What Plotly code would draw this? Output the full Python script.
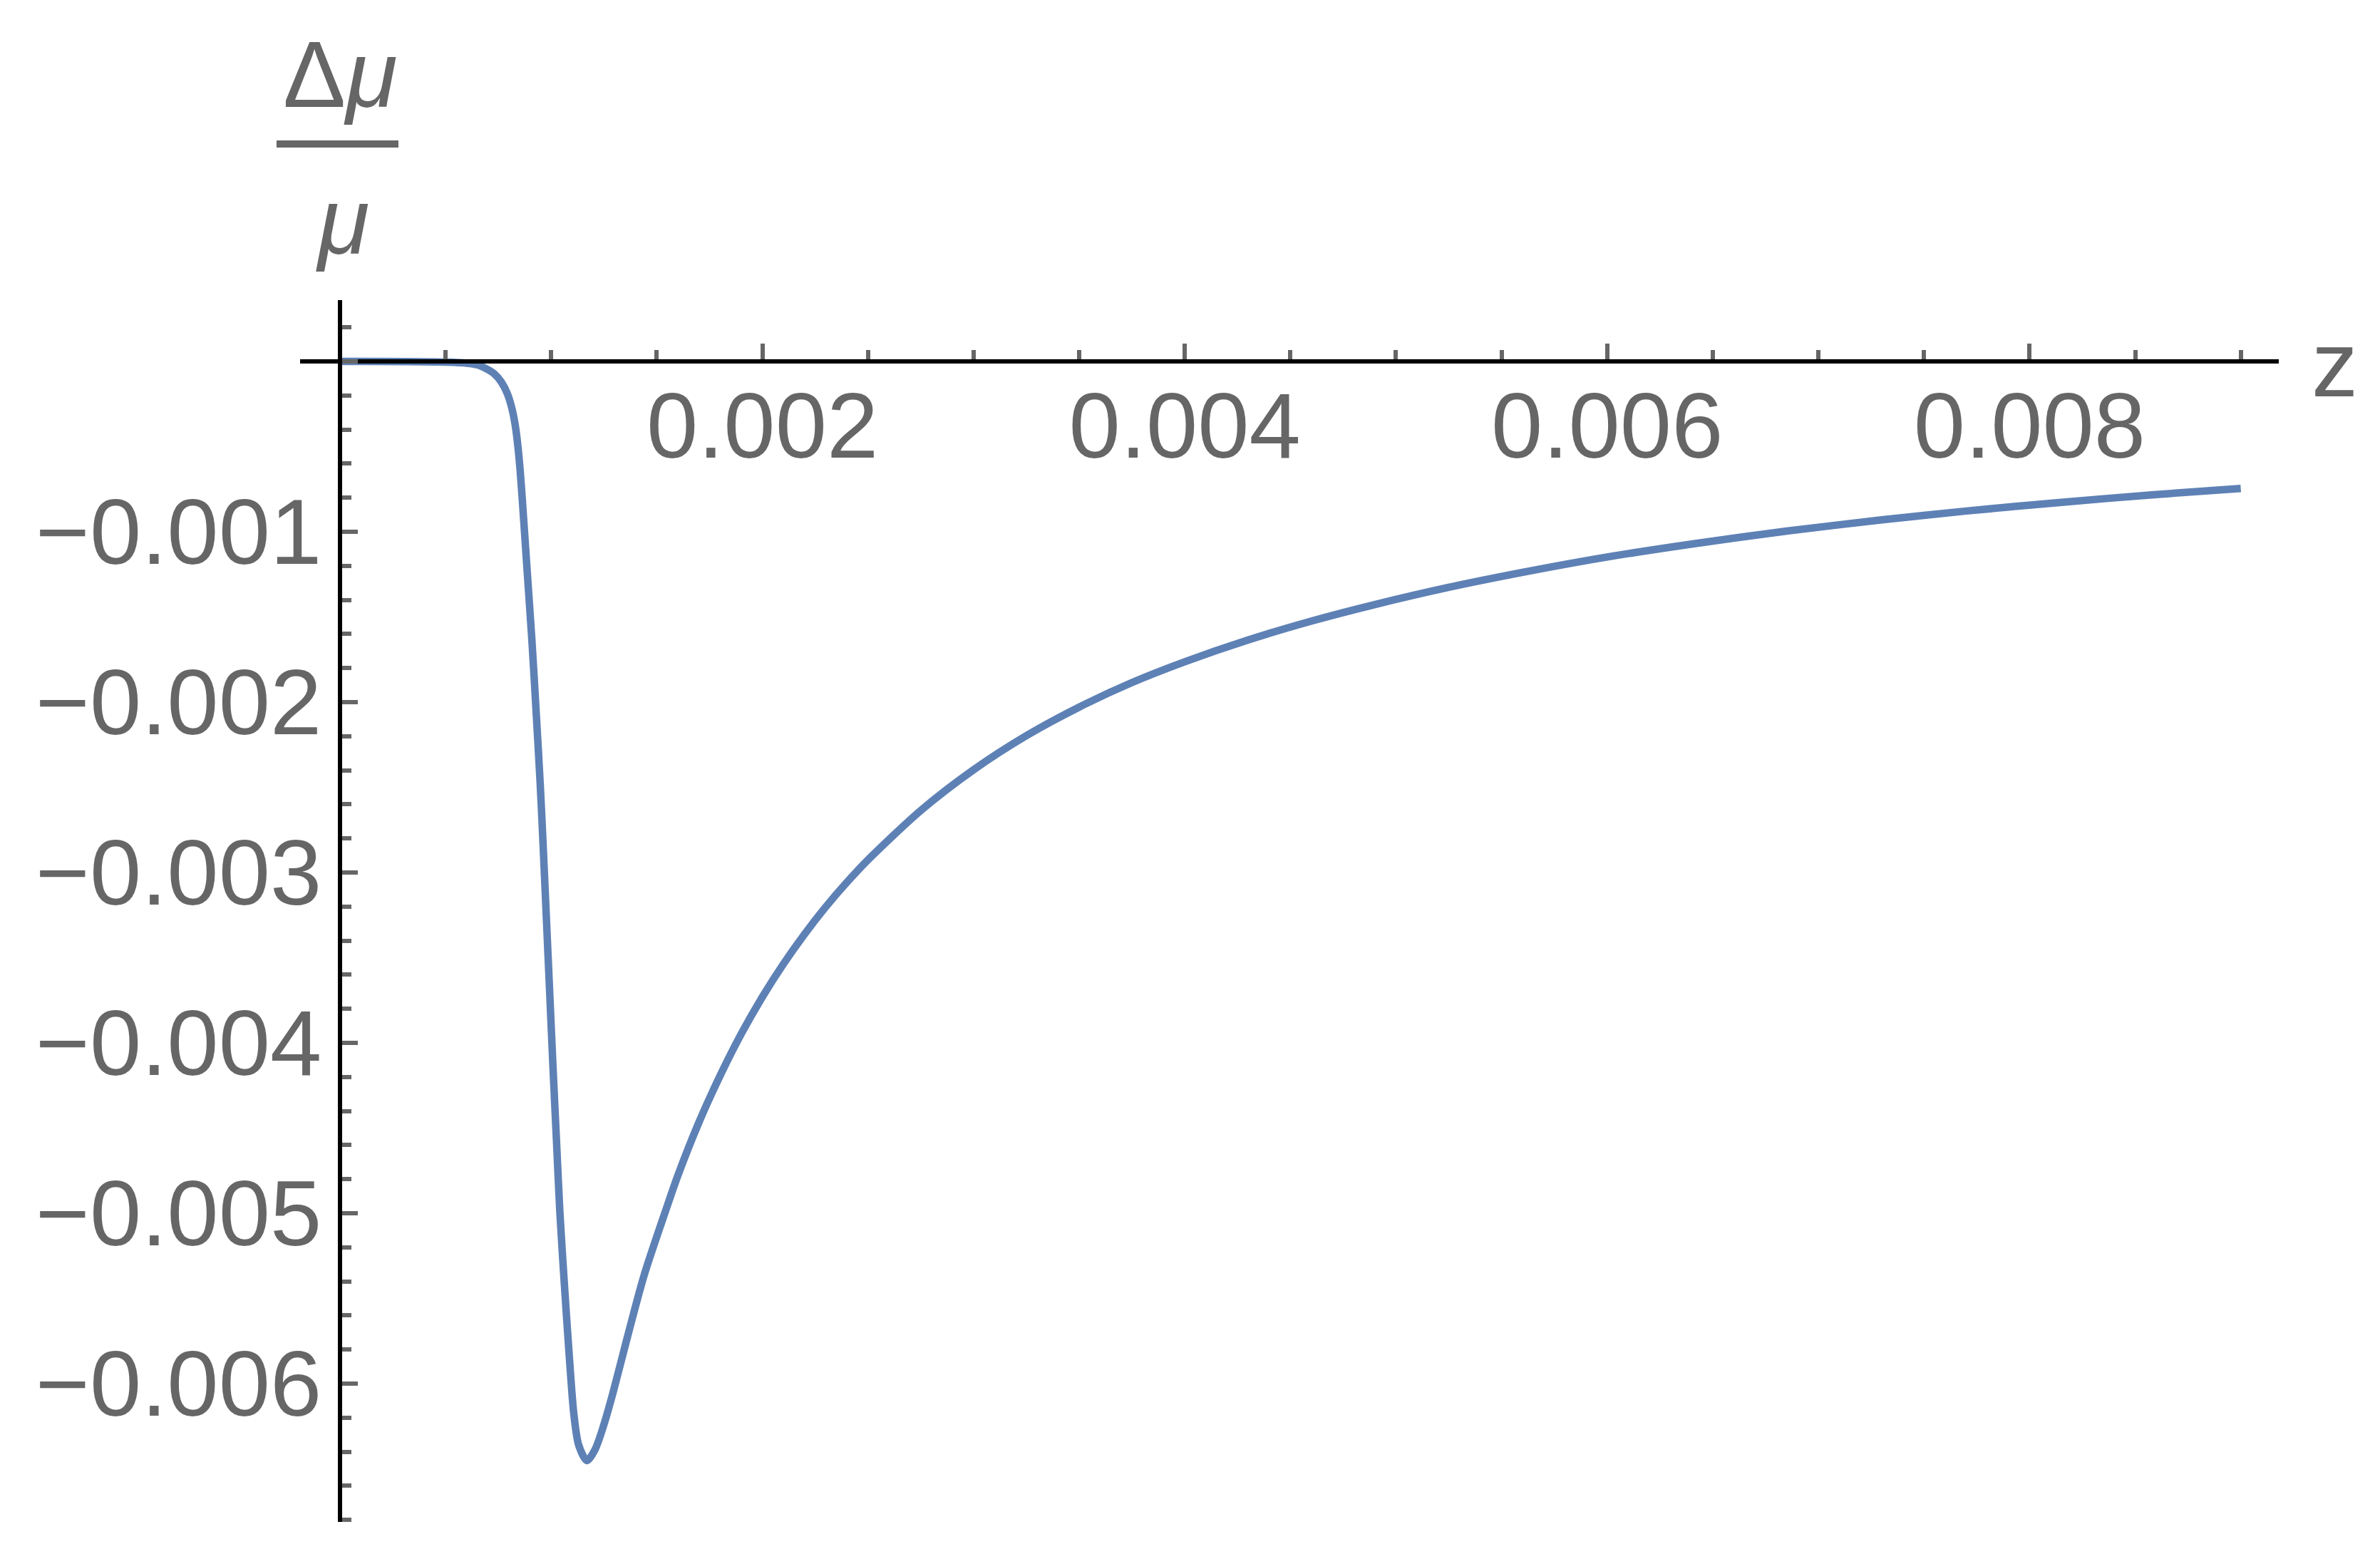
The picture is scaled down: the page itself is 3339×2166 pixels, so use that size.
import plotly.graph_objects as go

# curve: z and relative shift of mu
z = [0.0, 0.0003, 0.0005, 0.0006, 0.00065, 0.000685, 0.000729, 0.000764, 0.000792,
     0.000814, 0.00083, 0.000842, 0.000853, 0.000863, 0.000886, 0.000909, 0.000929,
     0.000948, 0.000964, 0.000979, 0.000994, 0.001009, 0.001025, 0.001041, 0.001062,
     0.001085, 0.001107, 0.00113, 0.001169, 0.001208, 0.001248, 0.001293, 0.00136,
     0.001439, 0.00154, 0.0016, 0.0017, 0.0018, 0.0019, 0.002,
     0.0021, 0.0022, 0.0023, 0.0024, 0.0025, 0.00275, 0.003, 0.00325, 0.0035, 0.00375, 0.004,
     0.0043, 0.0046, 0.0049, 0.00525, 0.0056, 0.006, 0.0064, 0.00685,
     0.0073, 0.0077, 0.00815, 0.0086, 0.009]
dmu = [0.0, -0.000001, -0.000004, -0.00001, -0.00002, -0.000038, -0.000071, -0.000121, -0.000188,
       -0.000276, -0.000377, -0.000494, -0.00064, -0.000808, -0.001226, -0.001644, -0.002063,
       -0.002481, -0.0029, -0.003318, -0.003736, -0.004155, -0.004573, -0.004992, -0.00541,
       -0.005828, -0.006176, -0.00636, -0.006452, -0.006386, -0.006247, -0.006052, -0.005731,
       -0.005368, -0.004992, -0.004778, -0.004465, -0.004192, -0.003947, -0.00373,
       -0.003536, -0.003361, -0.003202, -0.003058, -0.002926, -0.002636, -0.002397, -0.002197,
       -0.002029, -0.001885, -0.001763,
       -0.001635, -0.001524, -0.001427, -0.001326, -0.001238, -0.001148, -0.001072, -0.000996,
       -0.00093, -0.000878, -0.000827, -0.000781, -0.000746]

x_ticks = [0.002, 0.004, 0.006, 0.008]
x_tick_text = ["0.002", "0.004", "0.006", "0.008"]
x_minor = [0.0005, 0.001, 0.0015, 0.002, 0.0025, 0.003, 0.0035, 0.004, 0.0045,
           0.005, 0.0055, 0.006, 0.0065, 0.007, 0.0075, 0.008, 0.0085, 0.009]

y_ticks = [0.0, -0.001, -0.002, -0.003, -0.004, -0.005, -0.006]
y_label_vals = [-0.001, -0.002, -0.003, -0.004, -0.005, -0.006]
y_label_text = ["\u22120.001", "\u22120.002", "\u22120.003", "\u22120.004",
                "\u22120.005", "\u22120.006"]
y_minor = [0.0002, -0.0002, -0.0004, -0.0006, -0.0008, -0.0012, -0.0014, -0.0016,
           -0.0018, -0.0022, -0.0024, -0.0026, -0.0028, -0.0032, -0.0034, -0.0036,
           -0.0038, -0.0042, -0.0044, -0.0046, -0.0048, -0.0052, -0.0054, -0.0056,
           -0.0058, -0.0062, -0.0064, -0.0066, -0.0068]

W, H = 3339, 2166
OFF = 8  # page body margin
# plot area in page pixels
PX0, PX1, PY0, PY1 = 421, 3197, 421, 2135
L, T = PX0 - OFF, PY0 - OFF
R, B = W - (PX1 - OFF), H - (PY1 - OFF)
GRAY = "#666666"
FONT = "Liberation Sans, Arial, sans-serif"


def px(xp):
    return (xp - PX0) / (PX1 - PX0)


def py(yp):
    return (PY1 - yp) / (PY1 - PY0)


fig = go.Figure()
fig.add_trace(go.Scatter(x=z, y=dmu, mode="lines",
                         line=dict(color="#5E81B5", width=10.5, shape="spline", smoothing=0.8)))

tick_style = dict(ticks="inside", tickcolor=GRAY, tickwidth=6)

fig.update_xaxes(
    range=[-0.000189, 0.00918], anchor="free", position=py(507),
    showline=True, linecolor="black", linewidth=6,
    showgrid=False, zeroline=False,
    tickmode="array", tickvals=x_ticks, ticktext=x_tick_text, ticklen=22,
    ticklabelstandoff=-24,
    tickfont=dict(family=FONT, size=130, color=GRAY),
    minor=dict(tickmode="array", tickvals=x_minor, ticklen=13, showgrid=False, **tick_style),
    **tick_style,
)
fig.update_yaxes(
    range=[-0.006812, 0.00036], anchor="free", position=px(477),
    showline=True, linecolor="black", linewidth=6,
    showgrid=False, zeroline=False,
    tickmode="array", tickvals=y_ticks, ticklen=22, showticklabels=False,
    minor=dict(tickmode="array", tickvals=y_minor, ticklen=13, showgrid=False, **tick_style),
    **tick_style,
)

# y tick labels, right-aligned just left of the axis and centred on their ticks
for val, txt in zip(y_label_vals, y_label_text):
    fig.add_annotation(text=txt, x=px(453), y=val, xref="paper", yref="y",
                       xanchor="right", yanchor="middle", showarrow=False,
                       font=dict(family=FONT, size=130, color=GRAY))

ann_font = dict(family=FONT, size=132, color=GRAY)
fig.add_annotation(text="\u0394<i>\u03bc</i>", x=px(477), y=py(104), xref="paper", yref="paper",
                   xanchor="center", yanchor="middle", showarrow=False, font=ann_font)
fig.add_annotation(text="<i>\u03bc</i>", x=px(480), y=py(310), xref="paper", yref="paper",
                   xanchor="center", yanchor="middle", showarrow=False, font=ann_font)
fig.add_annotation(text="z", x=px(3275), y=py(511), xref="paper", yref="paper",
                   xanchor="center", yanchor="middle", showarrow=False,
                   font=dict(family=FONT, size=130, color=GRAY))
fig.add_shape(type="line", xref="paper", yref="paper",
              x0=px(388), x1=px(559), y0=py(202), y1=py(202),
              line=dict(color=GRAY, width=10))

fig.update_layout(
    width=W, height=H,
    margin=dict(l=L, r=R, t=T, b=B, pad=0),
    plot_bgcolor="white", paper_bgcolor="white",
    showlegend=False,
)

fig.write_html("out.html")
